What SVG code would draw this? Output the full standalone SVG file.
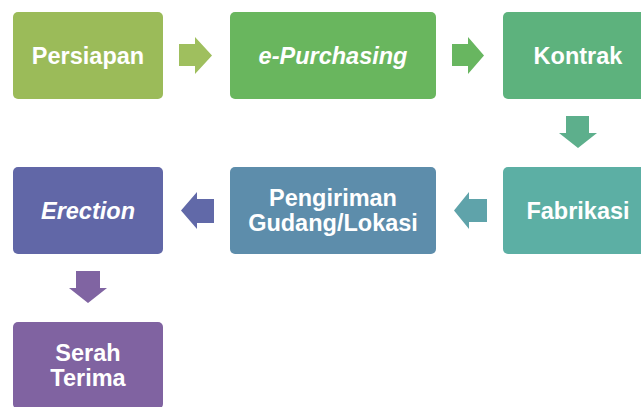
<svg xmlns="http://www.w3.org/2000/svg" width="641" height="407" viewBox="0 0 641 407">
<style>
.box{stroke:none}
.t{font-family:"Liberation Sans",Arial,sans-serif;font-weight:bold;font-size:23.5px;fill:#fff;text-anchor:middle}
.i{font-style:italic}
</style>
<rect width="641" height="407" fill="#fff"/>
<g id="connectors">
<polygon points="179,44 195,44 195,37 212,55.5 195,74 195,66 179,66" fill="#9fbf5e"/>
<polygon points="452,44 468,44 468,37 484,55.5 468,74 468,66 452,66" fill="#68b660"/>
<polygon points="566,116 589,116 589,133 597,133 578,148 559,133 566,133" fill="#5daf8c"/>
<polygon points="487,199 469,199 469,192 454,210.5 469,229 469,222 487,222" fill="#5fa3aa"/>
<polygon points="214,199 197,199 197,192 181,210.5 197,229 197,223 214,223" fill="#6169a8"/>
<polygon points="76,271 100,271 100,288 107,288 88,303 69,288 76,288" fill="#8064a2"/>
</g>
<g id="persiapan"><rect class="box" x="13" y="12" width="150" height="87" rx="5" fill="#9bbb59"/><text class="t" x="88" y="64">Persiapan</text></g>
<g id="epurchasing"><rect class="box" x="230" y="12" width="206" height="87" rx="5" fill="#69b65e"/><text class="t i" x="333" y="64">e-Purchasing</text></g>
<g id="kontrak"><rect class="box" x="503" y="12" width="150" height="87" rx="5" fill="#5db27d"/><text class="t" x="578" y="64">Kontrak</text></g>
<g id="fabrikasi"><rect class="box" x="503" y="167" width="150" height="87" rx="5" fill="#5cafa4"/><text class="t" x="578" y="219">Fabrikasi</text></g>
<g id="pengiriman"><rect class="box" x="230" y="167" width="206" height="87" rx="5" fill="#5d8dab"/><text class="t" x="333" y="206">Pengiriman</text><text class="t" x="333" y="231">Gudang/Lokasi</text></g>
<g id="erection"><rect class="box" x="13" y="167" width="150" height="87" rx="5" fill="#6167a7"/><text class="t i" x="88" y="219">Erection</text></g>
<g id="serah"><rect class="box" x="13" y="322" width="150" height="87" rx="5" fill="#8063a1"/><text class="t" x="88" y="361">Serah</text><text class="t" x="88" y="386">Terima</text></g>
</svg>
